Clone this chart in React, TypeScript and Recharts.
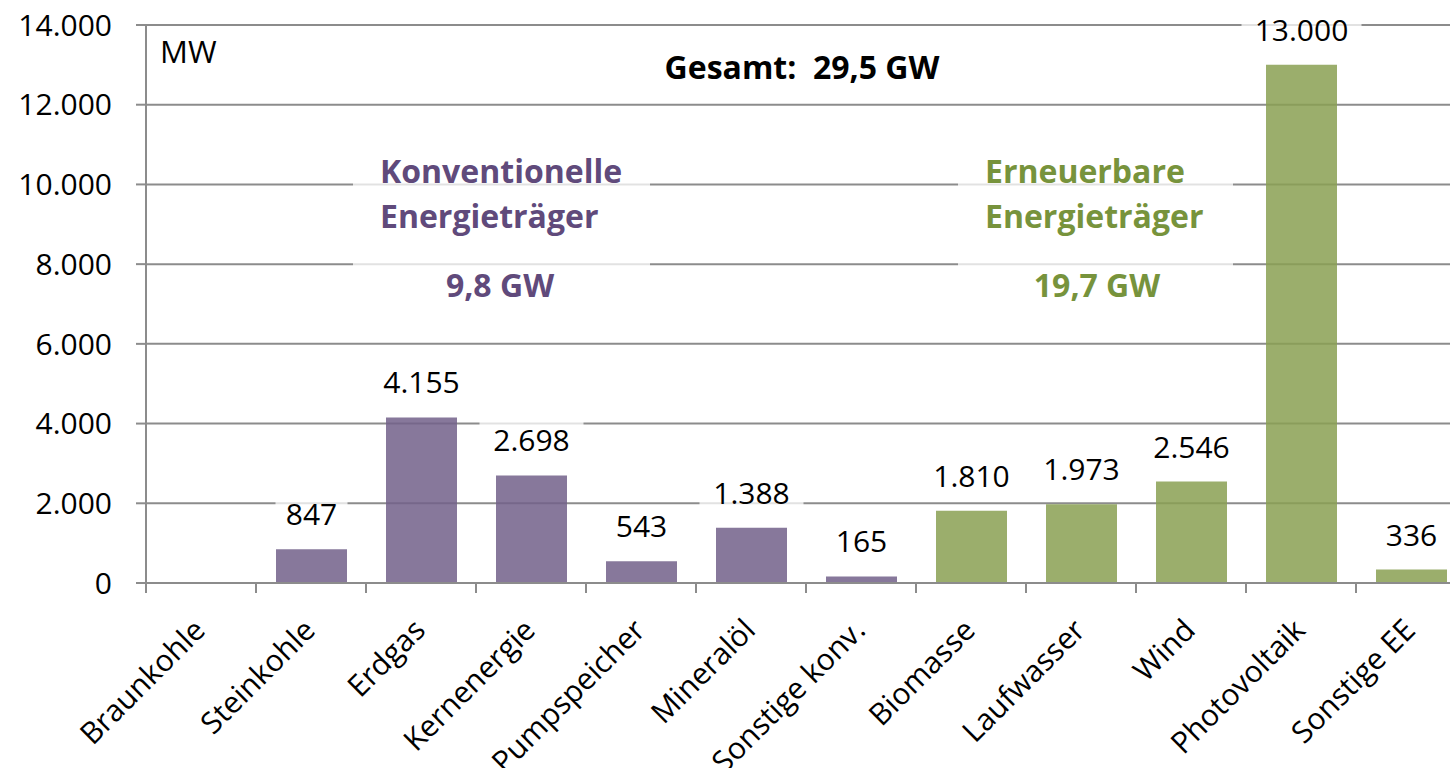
import React from 'react';
import { BarChart, Bar, XAxis, YAxis, CartesianGrid, Cell, LabelList, Customized } from 'recharts';

const categories = [
  'Braunkohle',
  'Steinkohle',
  'Erdgas',
  'Kernenergie',
  'Pumpspeicher',
  'Mineralöl',
  'Sonstige konv.',
  'Biomasse',
  'Laufwasser',
  'Wind',
  'Photovoltaik',
  'Sonstige EE',
];
const capacityMW = [0, 847, 4155, 2698, 543, 1388, 165, 1810, 1973, 2546, 13000, 336];
const isRenewable = [false, false, false, false, false, false, false, true, true, true, true, true];
const yTicks = [0, 2000, 4000, 6000, 8000, 10000, 12000, 14000];

const data = categories.map((name, i) => ({ name, value: capacityMW[i], renewable: isRenewable[i] }));

const FONT = '"Open Sans", sans-serif';
const CHART_W = 1466;
const CHART_H = 768;
const Y_AXIS_W = 146;
const BAND = (CHART_W - Y_AXIS_W) / categories.length;
const GRID = '#8c8c8c';
const PURPLE_BAR = '#72608a';
const GREEN_BAR = '#89a052';
const PURPLE_TEXT = '#604a7b';
const GREEN_TEXT = '#77933c';

const fmt = (v: number) => String(v).replace(/\B(?=(\d{3})+(?!\d))/g, '.');

const ValueLabel = (props: any) => {
  const { x, y, width, value } = props;
  const cx = x + width / 2;
  const text = fmt(value);
  const w = text.length * 16 + 24;
  return (
    <g>
      <rect x={cx - w / 2} y={y - 56} width={w} height={42} fill="#fff" fillOpacity={0.75} />
      <text x={cx} y={y - 24} textAnchor="middle" fontFamily={FONT} fontSize={30} fill="#000">
        {text}
      </text>
    </g>
  );
};

const CategoryTick = (props: any) => {
  const { x, y, payload } = props;
  return (
    <g>
      <line x1={x - BAND / 2} y1={y} x2={x - BAND / 2} y2={y + 10} stroke={GRID} strokeWidth={2} />
      <text
        transform={`translate(${x + 6},${y + 49}) rotate(-45)`}
        textAnchor="end"
        fontFamily={FONT}
        fontSize={30}
        fill="#000"
      >
        {payload.value}
      </text>
    </g>
  );
};

const Annotations = () => (
  <g fontFamily={FONT}>
    <rect x={353} y={140} width={297} height={170} fill="#fff" fillOpacity={0.75} />
    <rect x={958} y={140} width={275} height={170} fill="#fff" fillOpacity={0.75} />
    <text x={160} y={63} fontSize={31} fill="#000">MW</text>
    <text x={802} y={79} fontSize={32} fontWeight="bold" textAnchor="middle" fill="#000" xmlSpace="preserve">
      Gesamt:  29,5 GW
    </text>
    <text x={380} y={183} fontSize={32} fontWeight="bold" fill={PURPLE_TEXT}>Konventionelle</text>
    <text x={380} y={228} fontSize={32} fontWeight="bold" fill={PURPLE_TEXT}>Energieträger</text>
    <text x={500} y={297} fontSize={32} fontWeight="bold" textAnchor="middle" fill={PURPLE_TEXT}>9,8 GW</text>
    <text x={985} y={183} fontSize={32} fontWeight="bold" fill={GREEN_TEXT}>Erneuerbare</text>
    <text x={985} y={228} fontSize={32} fontWeight="bold" fill={GREEN_TEXT}>Energieträger</text>
    <text x={1097} y={297} fontSize={32} fontWeight="bold" textAnchor="middle" fill={GREEN_TEXT}>19,7 GW</text>
  </g>
);

export default function App() {
  return (
    <div style={{ position: 'absolute', left: 0, top: 0, width: 1450, height: 768, overflow: 'hidden', background: '#fff' }}>
      <BarChart
        width={CHART_W}
        height={CHART_H}
        data={data}
        margin={{ top: 25, right: 0, bottom: 0, left: 0 }}
        barSize={71}
      >
        <CartesianGrid vertical={false} stroke={GRID} strokeWidth={2} />
        <Customized component={Annotations} />
        <XAxis
          dataKey="name"
          interval={0}
          height={185}
          tickSize={0}
          tickMargin={0}
          tickLine={false}
          axisLine={{ stroke: GRID, strokeWidth: 2 }}
          tick={<CategoryTick />}
        />
        <YAxis
          width={Y_AXIS_W}
          domain={[0, 14000]}
          ticks={yTicks}
          interval={0}
          tickSize={10}
          tickMargin={24}
          tickLine={{ stroke: GRID, strokeWidth: 2 }}
          axisLine={{ stroke: GRID, strokeWidth: 2 }}
          tickFormatter={fmt}
          tick={{ fill: '#000', fontSize: 30, fontFamily: FONT }}
        />
        <Bar dataKey="value" isAnimationActive={false} fillOpacity={0.85}>
          {data.map((d) => (
            <Cell key={d.name} fill={d.renewable ? GREEN_BAR : PURPLE_BAR} />
          ))}
          <LabelList dataKey="value" content={<ValueLabel />} />
        </Bar>
      </BarChart>
    </div>
  );
}
